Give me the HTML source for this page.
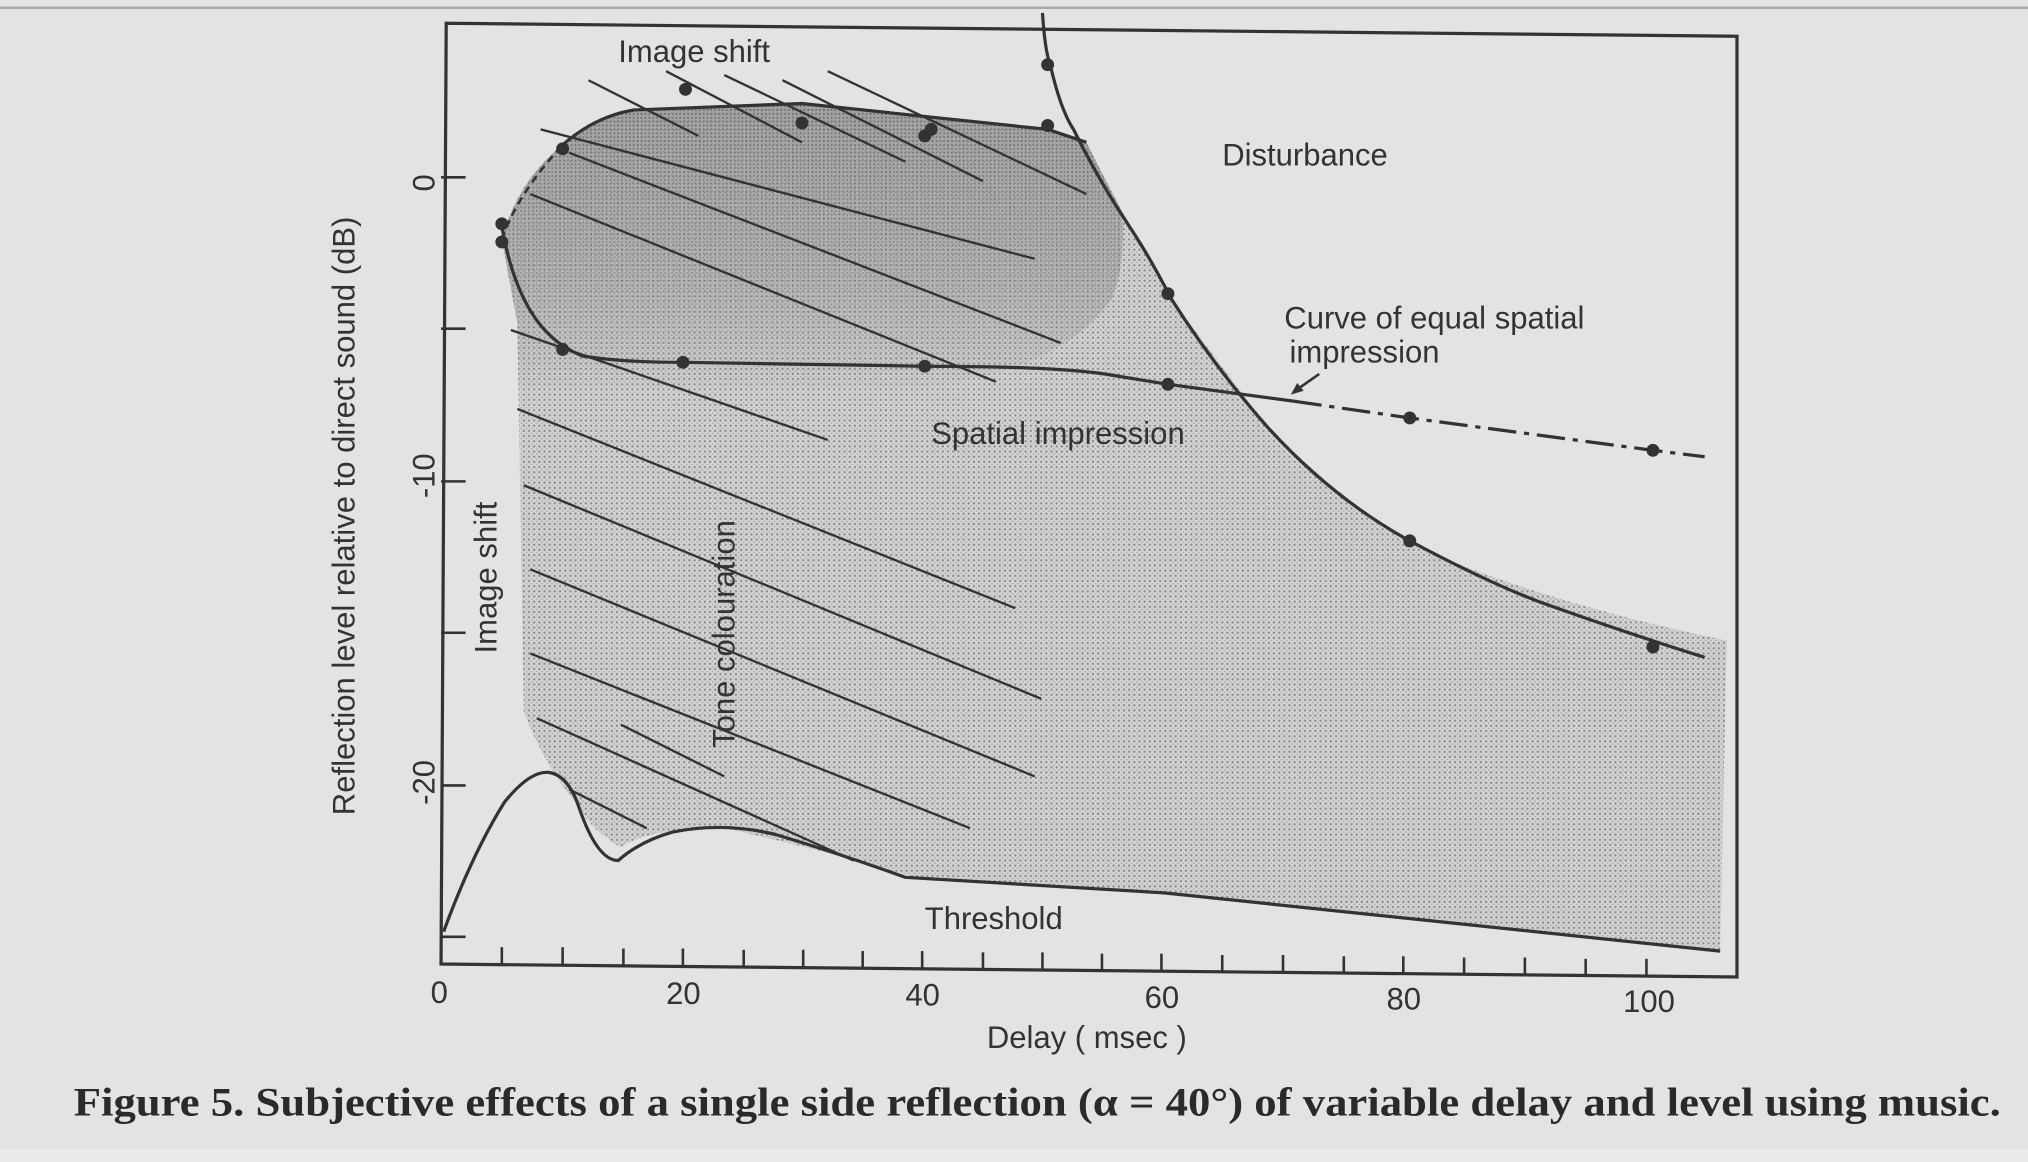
<!DOCTYPE html>
<html><head><meta charset="utf-8"><style>
html,body{margin:0;padding:0;background:#e3e3e3;}
svg{display:block}
text{font-family:"Liberation Sans",sans-serif;fill:#333}
</style></head><body>
<svg width="2028" height="1162" viewBox="0 0 1568 898" preserveAspectRatio="none">
<defs>
<pattern id="dots" width="4" height="4" patternUnits="userSpaceOnUse">
<rect width="4" height="4" fill="#d2d2d2"/><circle cx="1" cy="1" r="0.9" fill="#8a8a8a"/><circle cx="3" cy="3" r="0.6" fill="#a8a8a8"/>
</pattern>
<pattern id="dots2" width="3" height="3" patternUnits="userSpaceOnUse">
<rect width="3" height="3" fill="#9a9a9a"/><circle cx="1" cy="1" r="0.8" fill="#5a5a5a"/>
</pattern>
<linearGradient id="fade" x1="0" y1="0" x2="0" y2="1">
<stop offset="0" stop-color="#fff" stop-opacity="0.85"/>
<stop offset="0.6" stop-color="#fff" stop-opacity="0.5"/>
<stop offset="1" stop-color="#fff" stop-opacity="0"/>
</linearGradient>
<mask id="m"><rect x="380" y="75" width="500" height="230" fill="url(#fade)"/></mask>
<clipPath id="reg"><path id="regp" d="M388,185 Q400,140 435,112 Q460,90 490,85 L620,80 L810,100 L840,110 Q870,170 905,230 Q950,290 980,330 Q1030,380 1090,420 Q1190,465 1335,495 L1330,735 L1100,710 L900,690 L713,680 Q650,660 560,640 Q500,640 480,655 Q455,640 445,620 Q420,590 405,550 L400,250 Z"/></clipPath>
</defs>
<rect width="1568" height="898" fill="#e3e3e3"/>
<line x1="0" y1="6" x2="1568" y2="6" stroke="#aaa" stroke-width="2"/>
<rect x="0" y="888" width="1568" height="10" fill="#eaeaea"/>
<path d="M345,18 L1343,28 L1343,755 L341,745 Z" fill="none" stroke="#333" stroke-width="2.5"/>
<use href="#regp" fill="url(#dots)"/>
<g clip-path="url(#reg)" mask="url(#m)">
<path d="M380,80 L850,80 Q880,180 860,230 Q820,290 700,300 L380,300 Z" fill="url(#dots2)"/>
</g>
<g stroke="#333" stroke-width="1.8">
<line x1="455" y1="62" x2="540" y2="105"/>
<line x1="515" y1="55" x2="620" y2="110"/>
<line x1="560" y1="58" x2="700" y2="125"/>
<line x1="605" y1="62" x2="760" y2="140"/>
<line x1="640" y1="55" x2="840" y2="150"/>
<line x1="418" y1="100" x2="800" y2="200"/>
<line x1="440" y1="118" x2="820" y2="265"/>
<line x1="410" y1="150" x2="770" y2="295"/>
<line x1="395" y1="255" x2="640" y2="340"/>
<line x1="400" y1="316" x2="785" y2="470"/>
<line x1="405" y1="375" x2="805" y2="540"/>
<line x1="410" y1="440" x2="800" y2="600"/>
<line x1="410" y1="505" x2="750" y2="640"/>
<line x1="415" y1="555" x2="660" y2="665"/>
<line x1="480" y1="560" x2="560" y2="600"/>
<line x1="440" y1="610" x2="500" y2="640"/>
</g>
<path d="M806,10 Q808,40 812,50 Q820,85 830,100 Q850,140 870,170 Q890,200 905,230 Q940,285 980,330 Q1030,385 1090,418 Q1150,450 1190,465 Q1260,490 1318,508" fill="none" stroke="#333" stroke-width="2.5"/>
<path d="M388,175 Q395,215 410,240 Q425,265 450,275 Q480,280 528,280 L713,283 Q820,283 860,290 L903,297 L1000,310" fill="none" stroke="#333" stroke-width="2.5"/>
<path d="M1000,310 L1090,323 L1278,348 L1318,353" fill="none" stroke="#333" stroke-width="2.5" stroke-dasharray="22,6,4,6"/>
<path d="M388,185 Q400,150 435,112" fill="none" stroke="#333" stroke-width="2" stroke-dasharray="6,4"/>
<path d="M435,112 Q460,90 490,85 L620,80 L810,100 L840,110" fill="none" stroke="#333" stroke-width="2.5"/>
<path d="M343,720 Q365,660 390,620 Q410,595 425,597 Q440,600 448,625 Q462,665 478,665 Q495,650 520,643 Q560,635 600,645 Q650,660 700,678 L900,690 L1330,735" fill="none" stroke="#333" stroke-width="2.5"/>
<line x1="1020" y1="289" x2="1000" y2="303" stroke="#333" stroke-width="2"/>
<path d="M998,305 L1003,296 L1008,302 Z" fill="#333"/>
<g fill="#333">
<circle cx="388" cy="173" r="5"/><circle cx="388" cy="187" r="5"/><circle cx="435" cy="115" r="5"/><circle cx="530" cy="69" r="5"/><circle cx="620" cy="95" r="5"/><circle cx="715" cy="105" r="5"/><circle cx="720" cy="100" r="5"/><circle cx="810" cy="50" r="5"/><circle cx="810" cy="97" r="5"/><circle cx="903" cy="227" r="5"/><circle cx="435" cy="270" r="5"/><circle cx="528" cy="280" r="5"/><circle cx="715" cy="283" r="5"/><circle cx="903" cy="297" r="5"/><circle cx="1090" cy="323" r="5"/><circle cx="1278" cy="348" r="5"/><circle cx="1090" cy="418" r="5"/><circle cx="1278" cy="500" r="5"/>
</g>
<g stroke="#333" stroke-width="2">
<line x1="341" y1="137" x2="360" y2="137"/><line x1="341" y1="254" x2="360" y2="254"/><line x1="341" y1="372" x2="360" y2="372"/><line x1="341" y1="489" x2="360" y2="489"/><line x1="341" y1="607" x2="360" y2="607"/><line x1="341" y1="724" x2="360" y2="724"/>
<line x1="388" y1="745" x2="388" y2="732"/><line x1="435" y1="745" x2="435" y2="732"/><line x1="482" y1="746" x2="482" y2="733"/><line x1="528" y1="746" x2="528" y2="733"/><line x1="575" y1="747" x2="575" y2="734"/><line x1="621" y1="747" x2="621" y2="734"/><line x1="667" y1="748" x2="667" y2="735"/><line x1="713" y1="748" x2="713" y2="735"/><line x1="760" y1="749" x2="760" y2="736"/><line x1="806" y1="749" x2="806" y2="736"/><line x1="852" y1="750" x2="852" y2="737"/><line x1="898" y1="750" x2="898" y2="737"/><line x1="945" y1="751" x2="945" y2="738"/><line x1="992" y1="751" x2="992" y2="738"/><line x1="1039" y1="752" x2="1039" y2="739"/><line x1="1085" y1="752" x2="1085" y2="739"/><line x1="1132" y1="753" x2="1132" y2="740"/><line x1="1179" y1="753" x2="1179" y2="740"/><line x1="1226" y1="754" x2="1226" y2="741"/><line x1="1273" y1="754" x2="1273" y2="741"/>
</g>
<g font-size="24">
<text x="478" y="48">Image shift</text>
<text x="945" y="128">Disturbance</text>
<text x="993" y="254">Curve of equal spatial</text>
<text x="997" y="280">impression</text>
<text x="720" y="343">Spatial impression</text>
<text x="715" y="718">Threshold</text>
<text transform="translate(384,505) rotate(-90)">Image shift</text>
<text transform="translate(568,578) rotate(-90)">Tone colouration</text>
<text transform="translate(274,630) rotate(-90)">Reflection level relative to direct sound (dB)</text>
<text transform="translate(336,148) rotate(-90)">0</text>
<text transform="translate(336,385) rotate(-90)">-10</text>
<text transform="translate(336,622) rotate(-90)">-20</text>
<text x="333" y="775">0</text>
<text x="515" y="776">20</text>
<text x="700" y="777">40</text>
<text x="885" y="779">60</text>
<text x="1072" y="780">80</text>
<text x="1255" y="782">100</text>
<text x="763" y="810">Delay ( msec )</text>
</g>
<text x="57" y="862" font-size="31" font-weight="bold" textLength="1490" lengthAdjust="spacingAndGlyphs" style="font-family:'Liberation Serif',serif;fill:#2a2a2a">Figure 5.  Subjective effects of a single side reflection (α = 40°) of variable delay and level using music.</text>
</svg>
</body></html>
